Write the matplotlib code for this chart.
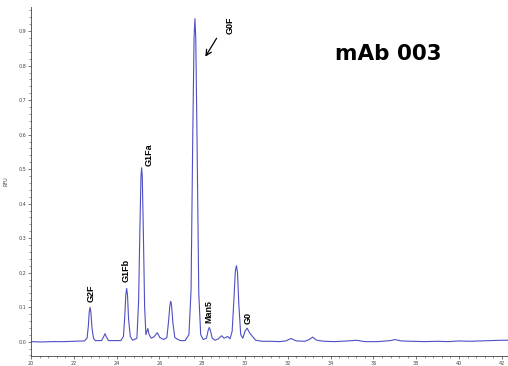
import matplotlib
matplotlib.use("Agg")
import matplotlib.pyplot as plt
from matplotlib.ticker import MultipleLocator

# retention time (min) and signal
time = [20.0, 20.5, 21.0, 21.5, 22.0, 22.5,
        22.62, 22.68, 22.72, 22.76, 22.80, 22.85, 22.92, 23.0,
        23.3, 23.40, 23.46, 23.52, 23.62,
        24.2, 24.32, 24.38, 24.43, 24.47, 24.51, 24.56, 24.64, 24.75,
        24.95, 25.03, 25.09, 25.14, 25.17, 25.20, 25.25, 25.31, 25.37,
        25.42, 25.46, 25.52, 25.62, 25.75, 25.90, 26.02,
        26.2, 26.35, 26.43, 26.49, 26.53, 26.57, 26.63, 26.72, 26.87, 27.0,
        27.2, 27.38, 27.48, 27.56, 27.62, 27.66, 27.70, 27.76, 27.84, 27.93,
        28.05, 28.20, 28.28, 28.33, 28.38, 28.47, 28.60, 28.75, 28.91, 29.02,
        29.10, 29.19, 29.30, 29.40, 29.48, 29.55, 29.60, 29.65, 29.71, 29.80,
        29.90, 30.00, 30.10, 30.22, 30.35, 30.50, 30.8,
        31.2, 31.6, 31.9, 32.15, 32.40, 32.8, 33.0, 33.16, 33.35,
        33.7, 34.2, 34.8, 35.2, 35.6, 36.2, 36.8, 37.0, 37.3,
        37.8, 38.4, 39.0, 39.5, 40.0, 40.5, 41.0, 41.5, 42.0, 42.3]
signal = [0.000, -0.001, 0.000, 0.000, 0.001, 0.002,
          0.010, 0.045, 0.085, 0.099, 0.085, 0.040, 0.010, 0.003,
          0.003, 0.015, 0.023, 0.014, 0.003,
          0.003, 0.015, 0.070, 0.135, 0.154, 0.135, 0.065, 0.015, 0.004,
          0.010, 0.120, 0.330, 0.480, 0.504, 0.480, 0.320, 0.100, 0.020,
          0.030, 0.038, 0.020, 0.010, 0.014, 0.026, 0.012,
          0.006, 0.012, 0.060, 0.105, 0.117, 0.105, 0.055, 0.012, 0.006, 0.003,
          0.003, 0.020, 0.150, 0.600, 0.880, 0.936, 0.880, 0.580, 0.140, 0.020,
          0.006, 0.010, 0.033, 0.041, 0.033, 0.010, 0.004, 0.008, 0.017, 0.010,
          0.012, 0.015, 0.008, 0.030, 0.120, 0.205, 0.220, 0.200, 0.110, 0.020,
          0.010, 0.030, 0.039, 0.025, 0.015, 0.004, 0.001,
          0.001, 0.000, 0.002, 0.009, 0.002, 0.001, 0.006, 0.013, 0.004,
          0.001, 0.000, 0.002, 0.004, 0.000, 0.000, 0.003, 0.006, 0.002,
          0.001, 0.000, 0.001, 0.000, 0.002, 0.001, 0.002, 0.003, 0.004, 0.004]

# peak labels: name, time, bottom of text
peak_names = ["G2F", "G1Fb", "G1Fa", "Man5", "G0"]
peak_x = [22.8, 24.45, 25.5, 28.3, 30.15]
peak_y = [0.114, 0.172, 0.51, 0.054, 0.05]

fig = plt.figure(figsize=(5.08, 3.66), dpi=100)
ax = fig.add_axes([0.061, 0.027, 0.939, 0.954])

ax.plot(time, signal, color="#4f4fc4", lw=0.8)

ax.set_xlim(20, 42.29)
ax.set_ylim(-0.042, 0.97)
ax.xaxis.set_major_locator(MultipleLocator(2))
ax.xaxis.set_minor_locator(MultipleLocator(0.4))
ax.yaxis.set_minor_locator(MultipleLocator(0.02))
ax.set_yticks([i / 10 for i in range(10)])
ax.set_yticklabels(["%.1f" % (i / 10) for i in range(10)])
ax.tick_params(which="major", length=2.5, width=0.5, labelsize=3.5, pad=1, colors="#444444")
ax.tick_params(which="minor", length=1.3, width=0.4, colors="#444444")
for s in ["top", "right"]:
    ax.spines[s].set_visible(False)
for s in ["left", "bottom"]:
    ax.spines[s].set_linewidth(0.6)
    ax.spines[s].set_color("#444444")
ax.set_ylabel("RFU", fontsize=3.5, labelpad=7, color="#444444")

for name, x, y in zip(peak_names, peak_x, peak_y):
    ax.text(x, y, name, rotation=90, ha="center", va="bottom",
            fontsize=6.5, fontweight="bold", family="Liberation Sans")

ax.text(29.3, 0.893, "G0F", rotation=90, ha="center", va="bottom",
        fontsize=6.5, fontweight="bold", family="Liberation Sans")
ax.annotate("", xy=(28.08, 0.819), xytext=(28.74, 0.886),
            arrowprops=dict(arrowstyle="->", color="black", lw=0.9))

fig.text(335 / 508, 1 - 60 / 366, "mAb 003", fontsize=15.5, fontweight="bold",
         ha="left", va="baseline")

fig.savefig("out.png", dpi=100)
